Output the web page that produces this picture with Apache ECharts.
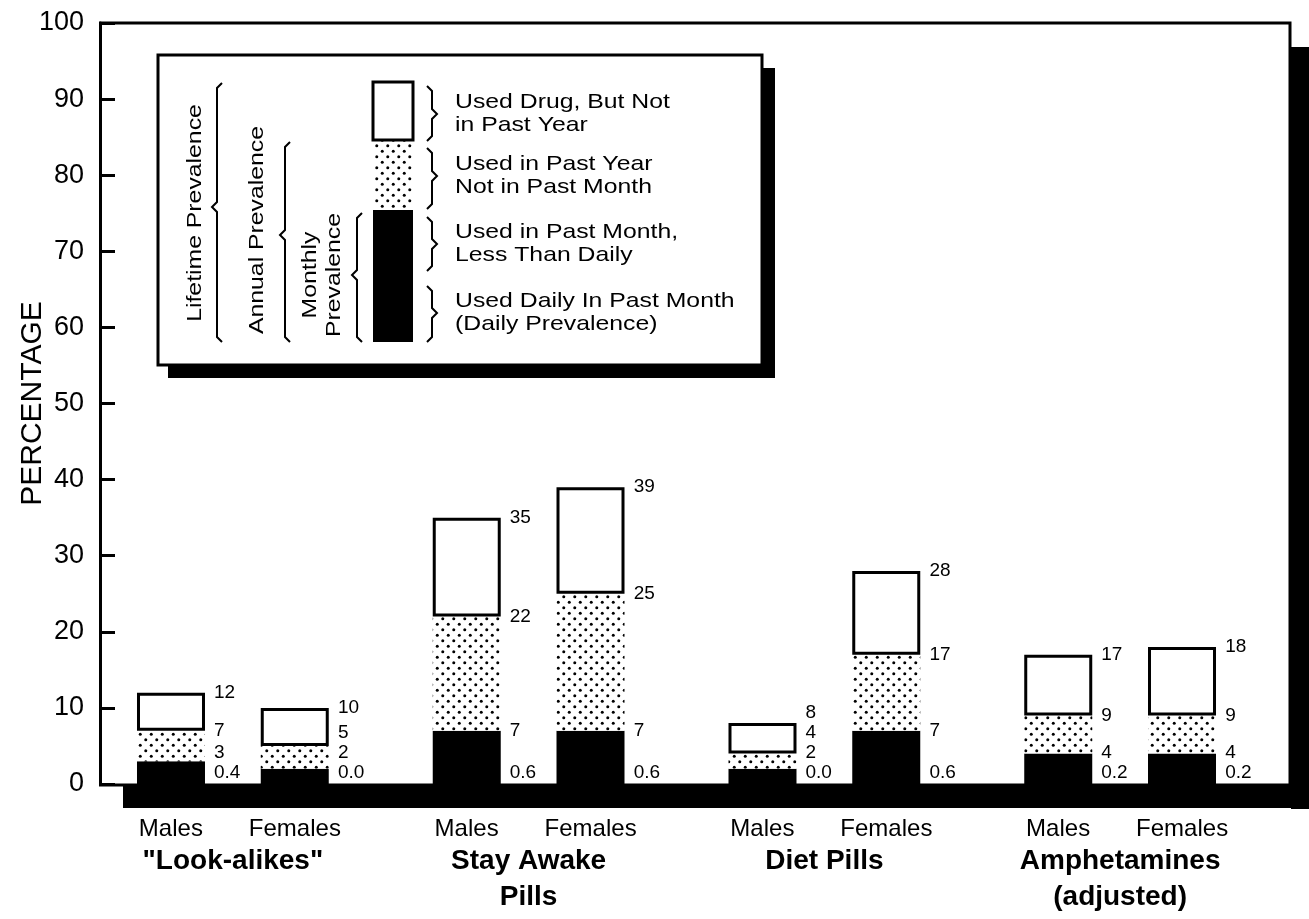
<!DOCTYPE html>
<html>
<head>
<meta charset="utf-8">
<title>Prevalence of stimulant use by sex</title>
<script src="https://cdn.jsdelivr.net/npm/echarts@6/dist/echarts.min.js"></script>
<style>
  html, body { margin: 0; padding: 0; background: #fff; }
  #chart { width: 1309px; height: 919px; }
</style>
</head>
<body>
<div id="chart"></div>
<script>
// data
const drugs = ['"Look-alikes"', 'Stay Awake\nPills', 'Diet Pills', 'Amphetamines\n(adjusted)']
const sexes = ['Males', 'Females']

const maleLifetime = [12, 35, 8, 17]
const maleAnnual = [7, 22, 4, 9]
const maleMonthly = [3, 7, 2, 4]
const maleDaily = [0.4, 0.6, 0.0, 0.2]

const femaleLifetime = [10, 39, 28, 18]
const femaleAnnual = [5, 25, 17, 9]
const femaleMonthly = [2, 7, 7, 4]
const femaleDaily = [0.0, 0.6, 0.6, 0.2]

// legend texts
const segmentNames = [
  'Used Drug, But Not\nin Past Year',
  'Used in Past Year\nNot in Past Month',
  'Used in Past Month,\nLess Than Daily',
  'Used Daily In Past Month\n(Daily Prevalence)'
]
const prevalenceNames = ['Lifetime Prevalence', 'Annual Prevalence', 'Monthly\nPrevalence']

const FONT = '"Liberation Sans", Arial, sans-serif'
const BAR_W = 68
const BAR_SPACE = 56 // white space between the two bars of a group
const HALF = (BAR_W + BAR_SPACE) / 2

// dotted fill like the screen tone in the print
function dotPattern() {
  const c = document.createElement('canvas')
  c.width = 11
  c.height = 11
  const ctx = c.getContext('2d')
  ctx.fillStyle = '#fff'
  ctx.fillRect(0, 0, 11, 11)
  ctx.fillStyle = '#000'
  ;[[2.75, 2.75], [8.25, 8.25]].forEach(function (p) {
    ctx.beginPath()
    ctx.arc(p[0], p[1], 1.5, 0, Math.PI * 2)
    ctx.fill()
  })
  return c
}
const dots = { image: dotPattern(), repeat: 'repeat' }

function diff(a, b) {
  return a.map((v, i) => +(v - b[i]).toFixed(2))
}

function barSeries(name, stack, data, color, border) {
  return {
    name: name,
    type: 'bar',
    stack: stack,
    barWidth: BAR_W,
    barGap: (BAR_SPACE / BAR_W * 100).toFixed(0) + '%',
    itemStyle: { color: color, borderColor: '#000', borderWidth: border },
    emphasis: { disabled: true },
    data: data
  }
}

// one row per bar: [drug index, sex index, lifetime, annual, monthly, daily]
const labelRows = []
drugs.forEach((d, i) => {
  labelRows.push([i, 0, maleLifetime[i], maleAnnual[i], maleMonthly[i], maleDaily[i]])
  labelRows.push([i, 1, femaleLifetime[i], femaleAnnual[i], femaleMonthly[i], femaleDaily[i]])
})

function valueLabels(params, api) {
  const cat = api.value(0)
  const sex = api.value(1)
  const base = api.coord([cat, 0])
  const x = base[0] + (sex ? HALF : -HALF) + BAR_W / 2 + 9
  // stack the labels upwards, keeping them apart on short bars
  const gap = 20
  const yDaily = base[1] - 11
  const yMonthly = Math.min(api.coord([cat, api.value(4)])[1], yDaily - gap)
  const yAnnual = Math.min(api.coord([cat, api.value(3)])[1], yMonthly - gap)
  const yLife = Math.min(api.coord([cat, api.value(2)])[1], yAnnual - gap)
  const items = [
    [yLife, String(api.value(2))],
    [yAnnual, String(api.value(3))],
    [yMonthly, String(api.value(4))],
    [yDaily, api.value(5).toFixed(1)]
  ]
  return {
    type: 'group',
    children: items.map(it => ({
      type: 'text',
      x: x,
      y: it[0],
      style: {
        text: it[1],
        fill: '#000',
        fontSize: 19,
        fontFamily: FONT,
        align: 'left',
        verticalAlign: 'middle'
      }
    }))
  }
}

// curly braces for the legend
function brace(x, y1, y2, ym, dir) {
  const d = dir // -1 points left, 1 points right
  return {
    type: 'polyline',
    z: 3,
    shape: {
      points: [[x - 5 * d, y1], [x, y1 + 5], [x, ym - 5], [x + 5 * d, ym], [x, ym + 5], [x, y2 - 5], [x - 5 * d, y2]]
    },
    style: { stroke: '#000', lineWidth: 2, fill: null }
  }
}

function legendText(text, x, y, rotated, align) {
  return {
    type: 'text',
    z: 3,
    x: x,
    y: y,
    rotation: rotated ? Math.PI / 2 : 0,
    scaleX: 1.18,
    style: {
      text: text,
      fill: '#000',
      fontSize: 21,
      lineHeight: rotated ? 24 : 23,
      fontFamily: FONT,
      align: align,
      verticalAlign: 'middle'
    }
  }
}

const legendTop = [82, 140, 210, 342] // mini bar segment edges
const legendGraphic = [
  { type: 'rect', z: 1, shape: { x: 168, y: 68, width: 607, height: 310 }, style: { fill: '#000' } },
  { type: 'rect', z: 2, shape: { x: 158, y: 55, width: 604, height: 310 }, style: { fill: '#fff', stroke: '#000', lineWidth: 3 } },
  { type: 'rect', z: 3, shape: { x: 373, y: legendTop[1], width: 40, height: legendTop[2] - legendTop[1] }, style: { fill: dots } },
  { type: 'rect', z: 3, shape: { x: 373, y: legendTop[2], width: 40, height: legendTop[3] - legendTop[2] }, style: { fill: '#000' } },
  { type: 'rect', z: 3, shape: { x: 373, y: legendTop[0], width: 40, height: legendTop[1] - legendTop[0] }, style: { fill: '#fff', stroke: '#000', lineWidth: 3 } },
  brace(217, 83, 342, 207, -1),
  brace(285, 142, 342, 235, -1),
  brace(357, 213, 342, 275, -1),
  legendText(prevalenceNames[0], 195, 213, true, 'center'),
  legendText(prevalenceNames[1], 257, 230, true, 'center'),
  legendText(prevalenceNames[2], 322, 275, true, 'center'),
  brace(432, 86, 141, 114, 1),
  brace(432, 148, 209, 176, 1),
  brace(432, 217, 271, 244, 1),
  brace(432, 286, 342, 313, 1),
  legendText(segmentNames[0], 455, 114, false, 'left'),
  legendText(segmentNames[1], 455, 176, false, 'left'),
  legendText(segmentNames[2], 455, 244, false, 'left'),
  legendText(segmentNames[3], 455, 313, false, 'left')
]

// plot frame with its drop shadow
const frameGraphic = [
  { type: 'rect', z: 0, shape: { x: 1291, y: 47, width: 18, height: 762 }, style: { fill: '#000' } },
  { type: 'rect', z: 0, shape: { x: 123, y: 786, width: 1186, height: 22 }, style: { fill: '#000' } },
  { type: 'polyline', z: 0, shape: { points: [[99, 23], [1290, 23], [1290, 786]] }, style: { stroke: '#000', lineWidth: 3, fill: null } },
  { type: 'line', z: 0, shape: { x1: 99, y1: 785, x2: 1290, y2: 785 }, style: { stroke: '#000', lineWidth: 3 } }
]

var myChart = echarts.init(document.getElementById('chart'))

var option = {
  animation: false,
  backgroundColor: '#fff',
  textStyle: { fontFamily: FONT, color: '#000' },
  grid: { left: 85, right: 41, top: 23, bottom: 135, containLabel: false, outerBoundsMode: 'none' },
  xAxis: {
    type: 'category',
    data: drugs,
    axisLine: { show: false },
    axisTick: { show: false },
    axisLabel: {
      interval: 0,
      margin: 31,
      color: '#000',
      formatter: function (value) {
        const top = sexes.map((s, i) => '{s' + i + '|' + s + '}').join('')
        const bottom = value.split('\n').map(s => '{g|' + s + '}').join('\n')
        return top + '\n' + bottom
      },
      rich: {
        s0: { width: HALF * 2, align: 'center', fontSize: 24, lineHeight: 28, fontFamily: FONT, color: '#000' },
        s1: { width: HALF * 2, align: 'center', fontSize: 24, lineHeight: 28, fontFamily: FONT, color: '#000' },
        g: { fontSize: 28, fontWeight: 'bold', lineHeight: 36, fontFamily: FONT, color: '#000' }
      }
    }
  },
  yAxis: {
    type: 'value',
    min: 0,
    max: 100,
    interval: 10,
    offset: -15,
    name: 'PERCENTAGE',
    nameLocation: 'middle',
    nameRotate: 90,
    nameGap: 52,
    nameMoveOverlap: false,
    nameTextStyle: { fontSize: 30, color: '#000', fontFamily: FONT },
    axisLine: { show: true, lineStyle: { color: '#000', width: 3 } },
    axisTick: { show: true, inside: true, length: 15, lineStyle: { color: '#000', width: 3 } },
    axisLabel: { fontSize: 27, color: '#000', margin: 16, fontFamily: FONT },
    splitLine: { show: false }
  },
  series: [
    barSeries('Males monthly', 'm', maleMonthly, '#000', 0),
    barSeries('Males past year', 'm', diff(maleAnnual, maleMonthly), dots, 0),
    barSeries('Males lifetime', 'm', diff(maleLifetime, maleAnnual), '#fff', 3),
    barSeries('Females monthly', 'f', femaleMonthly, '#000', 0),
    barSeries('Females past year', 'f', diff(femaleAnnual, femaleMonthly), dots, 0),
    barSeries('Females lifetime', 'f', diff(femaleLifetime, femaleAnnual), '#fff', 3),
    {
      name: 'values',
      type: 'custom',
      silent: true,
      z: 5,
      renderItem: valueLabels,
      encode: { x: 0, y: 2 },
      data: labelRows
    }
  ],
  graphic: frameGraphic.concat(legendGraphic)
}

myChart.setOption(option)
</script>
</body>
</html>
